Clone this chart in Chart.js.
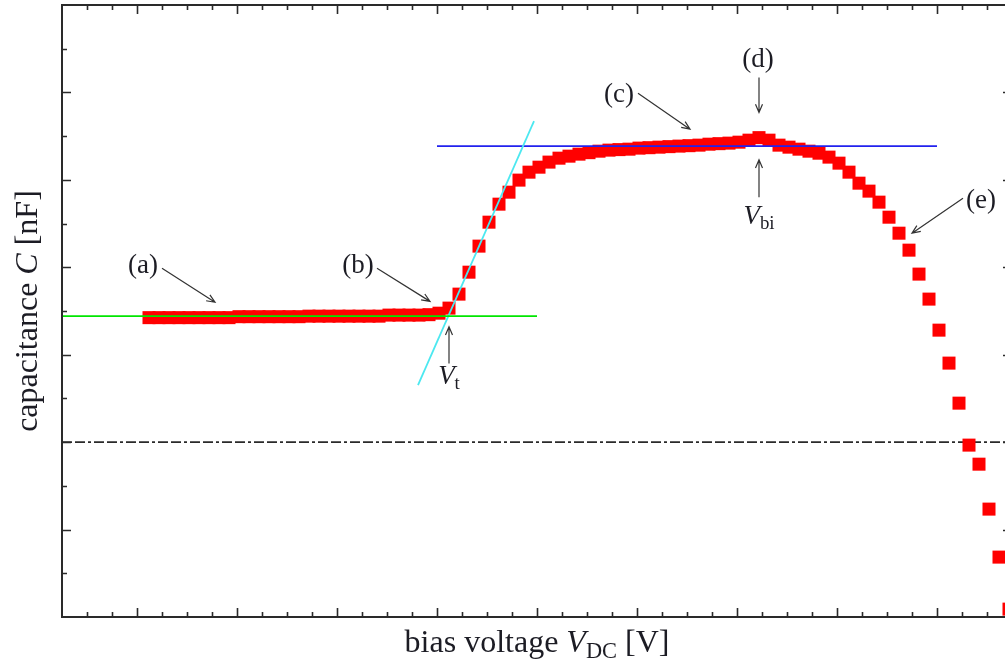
<!DOCTYPE html>
<html>
<head>
  <meta charset="utf-8">
  <title>Capacitance vs. bias voltage</title>
  <script src="https://cdn.jsdelivr.net/npm/chart.js"></script>
  <style>
    html, body {
      margin: 0;
      padding: 0;
      background: #fff;
      overflow: hidden;
    }
    #chartContainer {
      width: 1005px;
      height: 662px;
      overflow: hidden;
    }
  </style>
</head>
<body>
  <div id="chartContainer">
    <canvas id="cvChart" width="1020" height="662"></canvas>
  </div>
  <script>
    // Measured C-V sweep (arbitrary units, ticks are unlabelled)
    const biasVoltage = [
      0.12, 0.22, 0.32, 0.42, 0.52, 0.62, 0.72, 0.82, 0.92, 1.02,
      1.12, 1.22, 1.32, 1.42, 1.52, 1.62, 1.72, 1.82, 1.92, 2.02,
      2.12, 2.22, 2.32, 2.42, 2.52, 2.62, 2.72, 2.82, 2.92, 3.02,
      3.12, 3.22, 3.32, 3.42, 3.52, 3.62, 3.72, 3.82, 3.92, 4.02,
      4.12, 4.22, 4.32, 4.42, 4.52, 4.62, 4.72, 4.82, 4.92, 5.02,
      5.12, 5.22, 5.32, 5.42, 5.52, 5.62, 5.72, 5.82, 5.92, 6.02,
      6.12, 6.22, 6.32, 6.42, 6.52, 6.62, 6.72, 6.82, 6.92, 7.02,
      7.12, 7.22, 7.32, 7.42, 7.52, 7.62, 7.72, 7.82, 7.92, 8.02,
      8.12, 8.22, 8.32, 8.42, 8.52, 8.62, 8.72
    ];
    const capacitance = [
      1.424, 1.424, 1.424, 1.424, 1.424, 1.424, 1.424, 1.424, 1.424, 1.435,
      1.435, 1.435, 1.435, 1.435, 1.435, 1.435, 1.441, 1.441, 1.441, 1.441,
      1.441, 1.441, 1.441, 1.441, 1.453, 1.453, 1.453, 1.453, 1.458, 1.475,
      1.533, 1.693, 1.944, 2.242, 2.516, 2.722, 2.859, 2.997, 3.088, 3.145,
      3.203, 3.248, 3.271, 3.294, 3.311, 3.328, 3.340, 3.346, 3.351, 3.363,
      3.368, 3.374, 3.380, 3.386, 3.391, 3.397, 3.408, 3.414, 3.420, 3.431,
      3.454, 3.483, 3.454, 3.397, 3.374, 3.351, 3.328, 3.305, 3.260, 3.191,
      3.088, 2.962, 2.871, 2.745, 2.573, 2.390, 2.196, 1.922, 1.636, 1.281,
      0.904, 0.446, -0.034, -0.252, -0.766, -1.315, -1.910
    ];

    // Fitted guide lines
    const plateauLineX = [-0.75, 4.0];
    const plateauLineY = [1.441, 1.441];
    const riseLineX = [2.81, 3.97];
    const riseLineY = [0.652, 3.672];
    const maxLineX = [3.0, 8.0];
    const maxLineY = [3.386, 3.386];
    const zeroLineX = [-0.75, 8.75];
    const zeroLineY = [0, 0];

    // Axis ranges and tick spacing
    const xRange = [-0.75, 8.75];
    const yRange = [-2, 5];
    const xMajorStep = 1, xMinorStep = 0.25;
    const yMajorStep = 1, yMinorStep = 0.5;

    // Labels with arrows: text anchor and arrow from -> to (data coords)
    const annotations = [
      { parts: [{ t: '(a)' }], x: 0.06, y: 1.93, from: [0.25, 1.99], to: [0.78, 1.60] },
      { parts: [{ t: '(b)' }], x: 2.21, y: 1.93, from: [2.40, 1.99], to: [2.93, 1.61] },
      { parts: [{ t: '(c)' }], x: 4.82, y: 3.89, from: [5.01, 3.99], to: [5.53, 3.58] },
      { parts: [{ t: '(d)' }], x: 6.21, y: 4.29, from: [6.22, 4.17], to: [6.22, 3.77] },
      { parts: [{ t: '(e)' }], x: 8.44, y: 2.68, from: [8.26, 2.79], to: [7.75, 2.39] },
      { parts: [{ t: 'V', it: true }, { t: 'bi', sub: true }], x: 6.22, y: 2.50, from: [6.22, 2.80], to: [6.22, 3.23] },
      { parts: [{ t: 'V', it: true }, { t: 't', sub: true }], x: 3.12, y: 0.67, from: [3.12, 0.90], to: [3.12, 1.32] }
    ];

    const xTitle = [{ t: 'bias voltage ' }, { t: 'V', it: true }, { t: 'DC', sub: true }, { t: ' [V]' }];
    const yTitle = [{ t: 'capacitance ' }, { t: 'C', it: true }, { t: ' [nF]' }];

    const serif = '"Liberation Serif", "DejaVu Serif", serif';
    const inkColor = '#1c1c24';

    function toPoints(xs, ys) {
      return xs.map((x, i) => ({ x: x, y: ys[i] }));
    }

    function partFont(p, size) {
      const s = p.sub ? size * 0.7 : size;
      return (p.it ? 'italic ' : '') + s + 'px ' + serif;
    }

    // Draws mixed roman / italic / subscript text centred on x
    function drawRich(ctx, parts, x, y, size) {
      const widths = parts.map(p => {
        ctx.font = partFont(p, size);
        return ctx.measureText(p.t).width;
      });
      let cx = x - widths.reduce((a, b) => a + b, 0) / 2;
      ctx.textAlign = 'left';
      ctx.textBaseline = 'alphabetic';
      parts.forEach((p, i) => {
        ctx.font = partFont(p, size);
        ctx.fillText(p.t, cx, y + (p.sub ? size * 0.2 : 0));
        cx += widths[i];
      });
    }

    function drawArrow(ctx, x1, y1, x2, y2) {
      const ang = Math.atan2(y2 - y1, x2 - x1);
      const head = 9;
      ctx.beginPath();
      ctx.moveTo(x1, y1);
      ctx.lineTo(x2, y2);
      ctx.moveTo(x2 - head * Math.cos(ang - 0.4), y2 - head * Math.sin(ang - 0.4));
      ctx.lineTo(x2, y2);
      ctx.lineTo(x2 - head * Math.cos(ang + 0.4), y2 - head * Math.sin(ang + 0.4));
      ctx.stroke();
    }

    // Frame with inward ticks on all four sides, axis titles and annotations
    const decorPlugin = {
      id: 'decor',
      afterDatasetsDraw(chart) {
        const ctx = chart.ctx;
        const area = chart.chartArea;
        const xs = chart.scales.x;
        const ys = chart.scales.y;
        ctx.save();

        ctx.strokeStyle = '#2a2a2a';
        ctx.lineWidth = 2;
        ctx.strokeRect(area.left, area.top, area.right - area.left, area.bottom - area.top);

        ctx.lineWidth = 1.6;
        ctx.beginPath();
        const nx = Math.round((xRange[1] - xRange[0]) / xMinorStep);
        for (let i = 1; i < nx; i++) {
          const v = xRange[0] + i * xMinorStep;
          const major = Math.abs(v / xMajorStep - Math.round(v / xMajorStep)) < 1e-6;
          const len = major ? 9 : 5;
          const px = Math.round(xs.getPixelForValue(v)) + 0.5;
          ctx.moveTo(px, area.bottom);
          ctx.lineTo(px, area.bottom - len);
          ctx.moveTo(px, area.top);
          ctx.lineTo(px, area.top + len);
        }
        const ny = Math.round((yRange[1] - yRange[0]) / yMinorStep);
        for (let i = 1; i < ny; i++) {
          const v = yRange[0] + i * yMinorStep;
          const major = Math.abs(v / yMajorStep - Math.round(v / yMajorStep)) < 1e-6;
          const len = major ? 9 : 5;
          const py = Math.round(ys.getPixelForValue(v)) + 0.5;
          ctx.moveTo(area.left, py);
          ctx.lineTo(area.left + len, py);
          ctx.moveTo(area.right, py);
          ctx.lineTo(area.right - len, py);
        }
        ctx.stroke();

        // Axis titles
        ctx.fillStyle = inkColor;
        drawRich(ctx, xTitle, (area.left + area.right) / 2, 652, 32);
        ctx.save();
        ctx.translate(37, (area.top + area.bottom) / 2);
        ctx.rotate(-Math.PI / 2);
        drawRich(ctx, yTitle, 0, 0, 32);
        ctx.restore();

        // Annotations
        ctx.strokeStyle = '#333';
        ctx.lineWidth = 1.2;
        annotations.forEach(a => {
          drawRich(ctx, a.parts, xs.getPixelForValue(a.x), ys.getPixelForValue(a.y), 27);
          drawArrow(ctx,
            xs.getPixelForValue(a.from[0]), ys.getPixelForValue(a.from[1]),
            xs.getPixelForValue(a.to[0]), ys.getPixelForValue(a.to[1]));
        });
        ctx.restore();
      }
    };

    const ctx = document.getElementById('cvChart').getContext('2d');
    const chart = new Chart(ctx, {
      type: 'scatter',
      data: {
        datasets: [
          {
            label: 'zero',
            data: toPoints(zeroLineX, zeroLineY),
            showLine: true,
            borderColor: '#2a2a2a',
            borderWidth: 1.6,
            borderDash: [10, 3, 10, 3, 3, 3],
            pointRadius: 0,
            order: 3
          },
          {
            label: 'C(V)',
            data: toPoints(biasVoltage, capacitance),
            pointStyle: 'rect',
            pointRadius: 9.2,
            pointBorderWidth: 0,
            backgroundColor: '#ff0000',
            borderColor: '#ff0000',
            order: 2
          },
          {
            label: 'plateau',
            data: toPoints(plateauLineX, plateauLineY),
            showLine: true,
            borderColor: '#00e600',
            borderWidth: 1.8,
            pointRadius: 0,
            order: 1
          },
          {
            label: 'rise',
            data: toPoints(riseLineX, riseLineY),
            showLine: true,
            borderColor: '#4ce8f0',
            borderWidth: 1.8,
            pointRadius: 0,
            order: 1
          },
          {
            label: 'maximum',
            data: toPoints(maxLineX, maxLineY),
            showLine: true,
            borderColor: '#2222ee',
            borderWidth: 1.8,
            pointRadius: 0,
            order: 1
          }
        ]
      },
      options: {
        responsive: false,
        animation: false,
        layout: {
          autoPadding: false,
          padding: { left: 62, top: 5, right: 8, bottom: 45 }
        },
        plugins: {
          legend: { display: false },
          tooltip: { enabled: false }
        },
        scales: {
          x: { type: 'linear', min: xRange[0], max: xRange[1], display: false },
          y: { type: 'linear', min: yRange[0], max: yRange[1], display: false }
        }
      },
      plugins: [decorPlugin]
    });
  </script>
</body>
</html>
